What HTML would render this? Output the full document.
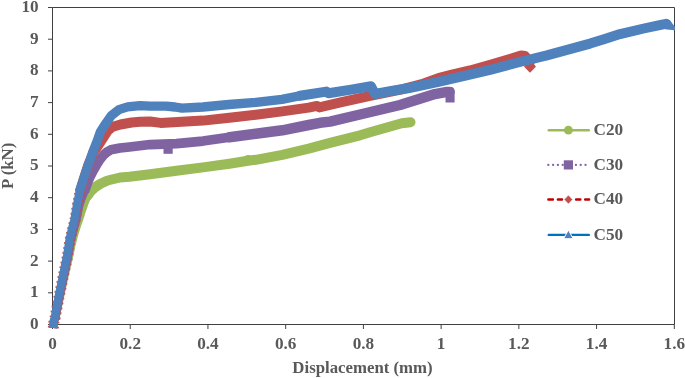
<!DOCTYPE html>
<html><head><meta charset="utf-8"><style>
html,body{margin:0;padding:0;background:#fff;}
body{width:685px;height:378px;overflow:hidden;}
svg{display:block;}
g.t{filter:grayscale(1);}
text{font-family:"Liberation Serif",serif;font-weight:bold;font-size:17.2px;fill:#595959;}
</style></head><body>
<svg width="685" height="378" viewBox="0 0 685 378">
<rect width="685" height="378" fill="#fff"/>
<path d="M52.5 7.5H674.5V324.5H52.5Z" fill="none" stroke="#404040" stroke-width="1"/>
<path d="M48 324.50H52.5" stroke="#404040" stroke-width="1"/>
<path d="M48 292.80H52.5" stroke="#404040" stroke-width="1"/>
<path d="M48 261.10H52.5" stroke="#404040" stroke-width="1"/>
<path d="M48 229.40H52.5" stroke="#404040" stroke-width="1"/>
<path d="M48 197.70H52.5" stroke="#404040" stroke-width="1"/>
<path d="M48 166.00H52.5" stroke="#404040" stroke-width="1"/>
<path d="M48 134.30H52.5" stroke="#404040" stroke-width="1"/>
<path d="M48 102.60H52.5" stroke="#404040" stroke-width="1"/>
<path d="M48 70.90H52.5" stroke="#404040" stroke-width="1"/>
<path d="M48 39.20H52.5" stroke="#404040" stroke-width="1"/>
<path d="M48 7.50H52.5" stroke="#404040" stroke-width="1"/>
<path d="M52.50 324.5V329" stroke="#404040" stroke-width="1"/>
<path d="M130.22 324.5V329" stroke="#404040" stroke-width="1"/>
<path d="M207.95 324.5V329" stroke="#404040" stroke-width="1"/>
<path d="M285.68 324.5V329" stroke="#404040" stroke-width="1"/>
<path d="M363.40 324.5V329" stroke="#404040" stroke-width="1"/>
<path d="M441.12 324.5V329" stroke="#404040" stroke-width="1"/>
<path d="M518.85 324.5V329" stroke="#404040" stroke-width="1"/>
<path d="M596.57 324.5V329" stroke="#404040" stroke-width="1"/>
<path d="M674.30 324.5V329" stroke="#404040" stroke-width="1"/>
<polyline points="53.3,328 54,321 55.5,318 60,297 64.5,276 69,257 71.5,245 74,235 77,225 79.5,218 82,210 84.5,203 87.5,196" fill="none" stroke="#9BBB59" stroke-width="8.2" stroke-linejoin="round" stroke-linecap="butt"/>
<polyline points="87.5,196 91,191 95.5,187 100,184 107.6,180.5 120,177.5 129.4,176.7 150,174.3 176.5,170.7 202.9,167.4 229.4,163.7 247.9,160.8 255.8,159.8 282.3,154.8 308.7,148.6 330,142.9 360,135.3 370,132.2 401.7,123.3 410.5,122.2" fill="none" stroke="#9BBB59" stroke-width="10" stroke-linejoin="round" stroke-linecap="round"/>
<circle cx="248.2" cy="160.2" r="5.1" fill="#9BBB59"/>
<polyline points="53.3,328 54,321 55.5,318 59.5,297 64,276 68.3,255 71,240 74.3,227.5 76.4,220 79.2,206 81.1,200 85.1,190" fill="none" stroke="#8064A2" stroke-width="8.2" stroke-linejoin="round" stroke-linecap="butt"/>
<polyline points="85.1,190 87.5,183 90,177 93,171 96.5,165 100,159.5 103.5,155 107,152 110.8,149.8 120,148 129.4,147 150,144.6 176.5,143.6 202.9,141.1 229.4,137.3" fill="none" stroke="#8064A2" stroke-width="9.6" stroke-linejoin="round" stroke-linecap="round"/>
<polyline points="229.4,137.3 255.8,133.7 282.3,130.3 308.7,125 320,122.8 330,121.6 360,114.5 400,105 434.9,94.1 447,91.9 449.5,92.1" fill="none" stroke="#8064A2" stroke-width="10.5" stroke-linejoin="round" stroke-linecap="round"/>
<rect x="163.5" y="144.5" width="9.2" height="9.3" fill="#8064A2"/>
<path d="M445.5 102.6V93Q445.5 87 451 87.1Q454.6 87.3 454.6 91.5V102.6Z" fill="#8064A2"/>
<polyline points="53.3,328 54,321 55,318 59,297 63.3,276 67.7,255 70,240 73,227.5 75,220 77.5,205 80.5,190" fill="none" stroke="#C0504D" stroke-width="11" stroke-linejoin="round" stroke-linecap="butt" stroke-dasharray="1.8 3.2"/>
<polyline points="80.5,190 83.5,180 88.3,165 93.5,152 98.5,145 103,138 107.5,131 112,127 120.5,124.5 131.6,122.5 140,121.8 150,121.5 160.6,122.9 181.7,121.8 202.9,120.6 229.4,117.7 255.8,114.8 282.3,111.4 308.7,107.6 317,105.9 319.3,107.4 339.4,102.7 367.6,96.3 401.9,89.3 423.8,83.5 438.4,78.1 453,74.3 470,70.5 491.1,64.6 512.3,58.2 521,55.4 525,56 529.5,63" fill="none" stroke="#C0504D" stroke-width="10" stroke-linejoin="round" stroke-linecap="round"/>
<path d="M530 61.3L535 66.5L530 71.7L525 66.5Z" fill="#C0504D" stroke="#C0504D" stroke-width="1.6" stroke-linejoin="round"/>
<polyline points="52.9,328 53.6,321 54.5,318.4 58.5,297.3 62.8,276.1 67.2,255 69.4,240 72.3,227.5 74.3,220 76.9,205 79.9,190" fill="none" stroke="#4F81BD" stroke-width="8.2" stroke-linejoin="round" stroke-linecap="butt"/>
<polyline points="79.9,190 83.3,180 88.2,165 90.2,160 93.2,151 97,141.5 100.3,132 104.1,126 111.3,115.6 118.9,109.6 127.6,106.9 140,105.7 150,106.1 166,106.2 175,107 182,108.1 203,107 229,104.5 256,102.3 282,99.4 300,95.8" fill="none" stroke="#4F81BD" stroke-width="9.3" stroke-linejoin="round" stroke-linecap="round"/>
<polyline points="300,95.8 326.3,91.6 328.5,93.2 352.6,89.4 371,86.3 375,94 390,91.2 409.2,88 438.4,81.8 467.6,75.1 490,69.9 519.7,62 546.9,55.3 590,43.6 603.9,39.2 620,34.1 643.8,28.5 660.8,24.8 666,23.8" fill="none" stroke="#4F81BD" stroke-width="10" stroke-linejoin="round" stroke-linecap="round"/>
<path d="M663.5 28.4L666.5 29.6L675 30.2V27L672.4 23.6L670 20.3L667 19Z" fill="#4F81BD"/>
<path d="M548.8 130.2H588.8" stroke="#9BBB59" stroke-width="2.4" stroke-linecap="round"/>
<circle cx="568.4" cy="130.2" r="4.4" fill="#9BBB59"/>
<path d="M548.3 164.9H562.8M575.9 164.9H585.6" stroke="#8064A2" stroke-width="2.3" stroke-linecap="round" stroke-dasharray="0.01 4.8"/>
<rect x="563.8" y="160.3" width="9.2" height="9.2" fill="#8064A2"/>
<path d="M548.4 199.6H552.9M557.9 199.6H562M576.1 199.6H580.3M585.2 199.6H589.1" stroke="#C00000" stroke-width="2.5" stroke-linecap="round"/>
<path d="M568.4 195.1L572.6999999999999 199.6L568.4 204.1L564.1 199.6Z" fill="#C0504D" stroke="#fff" stroke-width="0.6"/>
<path d="M548.8 234.9H588.8" stroke="#0070C0" stroke-width="2.4" stroke-linecap="round"/>
<path d="M568.4 230.0L573.1999999999999 238.70000000000002L563.6 238.70000000000002Z" fill="#4F81BD" stroke="#fff" stroke-width="1"/>
<g class="t">
<text transform="translate(38.6,328.90)" text-anchor="end">0</text>
<text transform="translate(38.6,297.20)" text-anchor="end">1</text>
<text transform="translate(38.6,265.50)" text-anchor="end">2</text>
<text transform="translate(38.6,233.80)" text-anchor="end">3</text>
<text transform="translate(38.6,202.10)" text-anchor="end">4</text>
<text transform="translate(38.6,170.40)" text-anchor="end">5</text>
<text transform="translate(38.6,138.70)" text-anchor="end">6</text>
<text transform="translate(38.6,107.00)" text-anchor="end">7</text>
<text transform="translate(38.6,75.30)" text-anchor="end">8</text>
<text transform="translate(38.6,43.60)" text-anchor="end">9</text>
<text transform="translate(38.6,11.90)" text-anchor="end">10</text>
<text transform="translate(52.50,348.7)" text-anchor="middle">0</text>
<text transform="translate(130.22,348.7)" text-anchor="middle">0.2</text>
<text transform="translate(207.95,348.7)" text-anchor="middle">0.4</text>
<text transform="translate(285.68,348.7)" text-anchor="middle">0.6</text>
<text transform="translate(363.40,348.7)" text-anchor="middle">0.8</text>
<text transform="translate(441.12,348.7)" text-anchor="middle">1</text>
<text transform="translate(518.85,348.7)" text-anchor="middle">1.2</text>
<text transform="translate(596.57,348.7)" text-anchor="middle">1.4</text>
<text transform="translate(674.30,348.7)" text-anchor="middle">1.6</text>
<text transform="translate(362.5,373.1)" text-anchor="middle" style="font-size:16.8px">Displacement (mm)</text>
<text transform="translate(12.8,165.8) rotate(-90)" text-anchor="middle" style="font-size:16.8px">P (kN)</text>
<text transform="translate(593.5,134.90)">C20</text>
<text transform="translate(593.5,169.60)">C30</text>
<text transform="translate(593.5,204.30)">C40</text>
<text transform="translate(593.5,239.60)">C50</text>
</g>
</svg>
</body></html>
